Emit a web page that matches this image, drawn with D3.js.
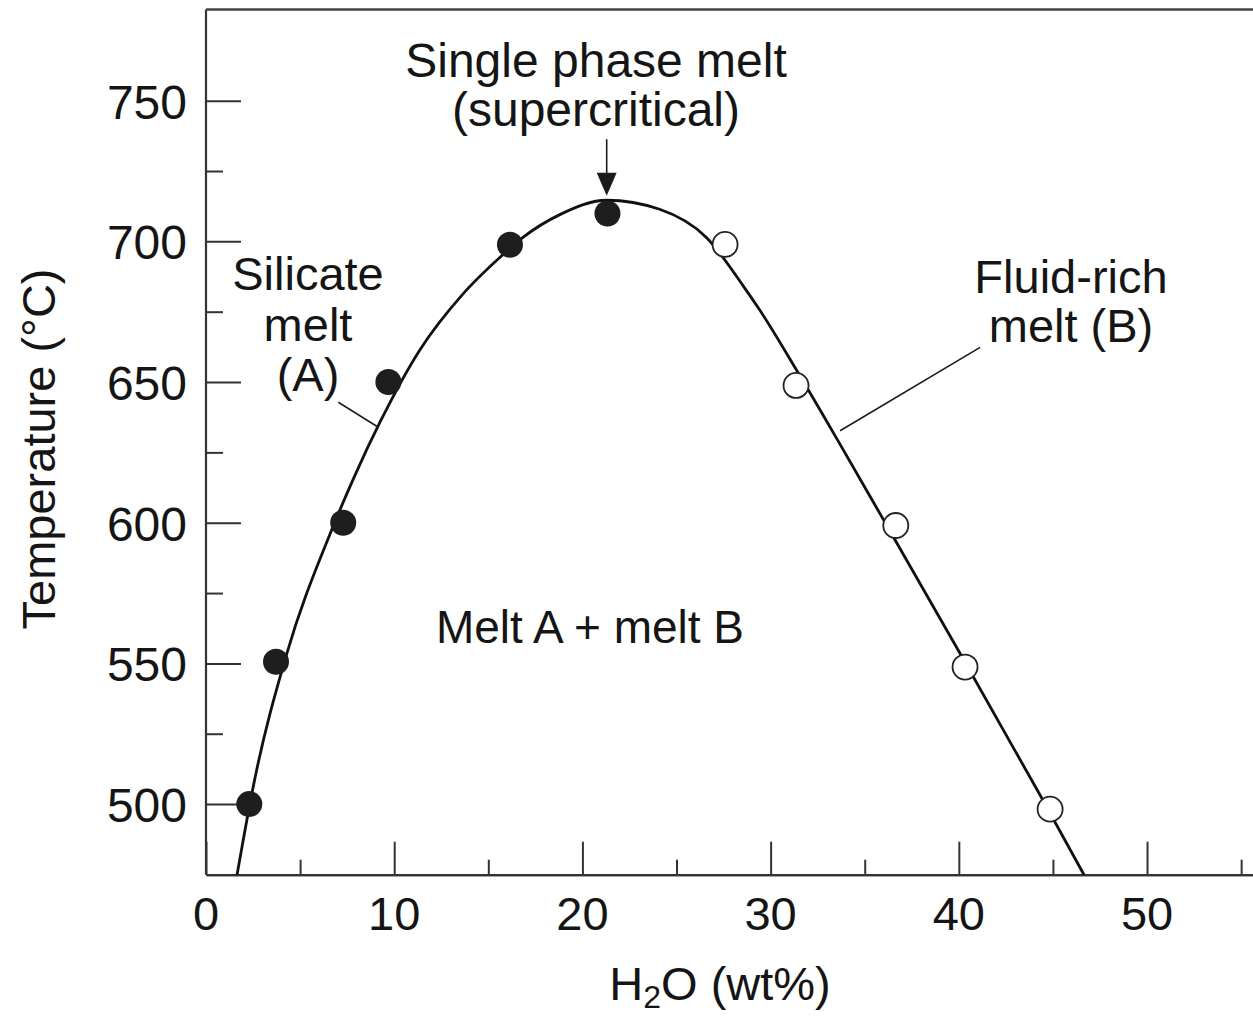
<!DOCTYPE html>
<html>
<head>
<meta charset="utf-8">
<script src="https://cdn.jsdelivr.net/npm/d3@7"></script>
<style>
  html, body { margin: 0; padding: 0; background: #fff; }
  svg { display: block; }
  text { font-family: "Liberation Sans", Arial, Helvetica, sans-serif; fill: #151515; }
</style>
</head>
<body>
<svg id="chart" width="1253" height="1017"></svg>
<script>
// ---- Data ----
// Silicate melt (A) – filled circles
const meltA_H2O  = [2.3, 3.72, 7.29, 9.69, 16.15, 21.33];
const meltA_T    = [500, 550.6, 600, 650, 698.8, 709.9];
// Fluid-rich melt (B) – open circles
const meltB_H2O  = [27.58, 31.35, 36.65, 40.33, 44.85];
const meltB_T    = [698.9, 648.8, 599, 548.7, 498.2];
// Solvus curve
const curveH2O = [1.65, 1.98, 2.51, 4.29, 6.59, 7.83, 9.25, 11.37, 13.6, 15.8, 16.86, 18.8, 21.29, 24.1, 26.6, 28.55, 29.44, 31.39, 33.6, 36.0, 40.06, 44.3, 46.65];
const curveT   = [474.9, 487.3, 506.2, 553.4, 596.0, 615.6, 635.8, 661.5, 680.9, 695.4, 701.5, 709.5, 714.6, 711.4, 701.3, 684.1, 675.4, 654.1, 628.9, 601.0, 553.6, 503.4, 474.9];
// Ticks
const xMajorTicks = [0, 10, 20, 30, 40, 50];
const xMinorTicks = [5, 15, 25, 35, 45, 55];
const yMajorTicks = [500, 550, 600, 650, 700, 750];
const yMinorTicks = [525, 575, 625, 675, 725];
const xTickLabels = ["0", "10", "20", "30", "40", "50"];
const yTickLabels = ["500", "550", "600", "650", "700", "750"];

(function () {
// ---- Layout ----
const svg = d3.select("#chart");
const pL = 206, pR = 1253, pT = 9.5, pB = 874.7;
const x = d3.scaleLinear().domain([0, 55.63]).range([pL, pR]);
const y = d3.scaleLinear().domain([474.9, 782.4]).range([pB, pT]);
const ink = "#1c1c1c";

// Frame: left and top lines
svg.append("line").attr("x1", pL).attr("x2", pL).attr("y1", pT).attr("y2", pB)
  .attr("stroke", "#333").attr("stroke-width", 2.2);
svg.append("line").attr("x1", pL).attr("x2", pR).attr("y1", pT).attr("y2", pT)
  .attr("stroke", "#444").attr("stroke-width", 2.4);

// X axis (ticks pointing inward)
const gx = svg.append("g").attr("transform", `translate(0,${pB})`);
gx.append("g").call(d3.axisTop(x).tickValues(xMajorTicks).tickSize(33).tickSizeOuter(0).tickFormat(""));
gx.append("g").call(d3.axisTop(x).tickValues(xMinorTicks).tickSize(15).tickSizeOuter(0).tickFormat(""));
gx.selectAll("path.domain").attr("stroke", "#333").attr("stroke-width", 2.2);
gx.selectAll(".tick line").attr("stroke", "#333").attr("stroke-width", 2);
gx.selectAll(".tick text").remove();
svg.append("g").selectAll("text").data(xMajorTicks).join("text")
  .attr("x", d => x(d)).attr("y", pB + 55)
  .attr("text-anchor", "middle").attr("font-size", 47)
  .text((d, i) => xTickLabels[i]);

// Y axis (ticks pointing inward)
const gy = svg.append("g").attr("transform", `translate(${pL},0)`);
gy.append("g").call(d3.axisLeft(y).tickValues(yMajorTicks).tickSize(-35).tickFormat(""));
gy.append("g").call(d3.axisLeft(y).tickValues(yMinorTicks).tickSize(-17).tickFormat(""));
gy.selectAll("path.domain").remove();
gy.selectAll(".tick line").attr("stroke", "#333").attr("stroke-width", 2);
svg.append("g").selectAll("text").data(yMajorTicks).join("text")
  .attr("x", 187).attr("y", d => y(d) + 18)
  .attr("text-anchor", "end").attr("font-size", 48)
  .text((d, i) => yTickLabels[i]);

// Axis titles
svg.append("text")
  .attr("transform", `translate(55,449) rotate(-90)`)
  .attr("text-anchor", "middle").attr("font-size", 47)
  .text("Temperature (°C)");
const xt = svg.append("text").attr("x", 720).attr("y", 1000)
  .attr("text-anchor", "middle").attr("font-size", 47);
xt.append("tspan").text("H");
xt.append("tspan").attr("font-size", 32).attr("dy", 8).text("2");
xt.append("tspan").attr("dy", -8).text("O (wt%)");

// Solvus curve
const curveData = curveH2O.map((v, i) => [v, curveT[i]]);
const line = d3.line().x(d => x(d[0])).y(d => y(d[1]))
  .curve(d3.curveMonotoneX);
svg.append("path").datum(curveData).attr("d", line)
  .attr("fill", "none").attr("stroke", "#111").attr("stroke-width", 2.8);

// Leader lines
svg.append("line").attr("x1", x(7.03)).attr("y1", y(642.8)).attr("x2", x(9.07)).attr("y2", y(634.3))
  .attr("stroke", ink).attr("stroke-width", 1.6);
svg.append("line").attr("x1", x(41.13)).attr("y1", y(662.3)).attr("x2", x(33.69)).attr("y2", y(632.7))
  .attr("stroke", ink).attr("stroke-width", 1.6);

// Arrow to the critical point
svg.append("line").attr("x1", x(21.29)).attr("x2", x(21.29))
  .attr("y1", y(736.3)).attr("y2", y(722))
  .attr("stroke", ink).attr("stroke-width", 1.6);
const ax = x(21.29), ay = y(716.2);
svg.append("path")
  .attr("d", `M${ax},${ay} L${ax - 10},${ay - 23} L${ax + 10},${ay - 23} Z`)
  .attr("fill", ink);

// Markers
svg.append("g").selectAll("circle").data(meltA_H2O).join("circle")
  .attr("cx", d => x(d)).attr("cy", (d, i) => y(meltA_T[i])).attr("r", 13)
  .attr("fill", "#1e1e1e");
svg.append("g").selectAll("circle").data(meltB_H2O).join("circle")
  .attr("cx", d => x(d)).attr("cy", (d, i) => y(meltB_T[i])).attr("r", 12.5)
  .attr("fill", "#fff").attr("stroke", "#222").attr("stroke-width", 1.8);

// Annotations
function label(lines, cx, baseline, size, gap) {
  const t = svg.append("text").attr("text-anchor", "middle").attr("font-size", size);
  lines.forEach((s, i) => t.append("tspan").attr("x", cx).attr("y", baseline + i * gap).text(s));
}
label(["Single phase melt", "(supercritical)"], 596, 77, 48, 49);
label(["Silicate", "melt", "(A)"], 308, 290, 47, 50.5);
label(["Fluid-rich", "melt (B)"], 1071, 293, 47, 48.5);
label(["Melt A + melt B"], 590, 643, 46, 0);
})();
</script>
</body>
</html>
